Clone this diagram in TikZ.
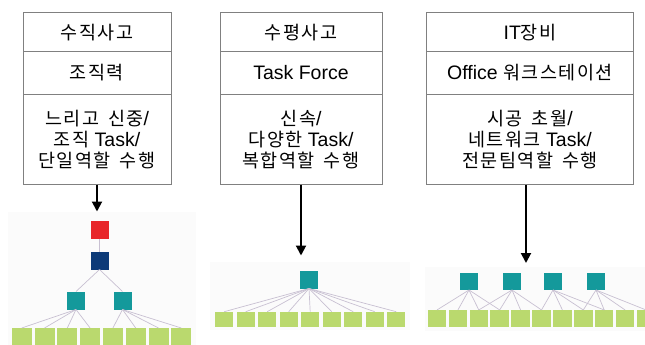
\documentclass[tikz,border=0pt]{standalone}
\usepackage{fontspec}
\setmainfont{Liberation Sans}
\newfontfamily\kr[LetterSpace=8, WordSpace=1.6]{Noto Sans CJK KR}
\usetikzlibrary {arrows.meta,
                 positioning}
\definecolor{boxgray}{HTML}{808080}
\definecolor{nodered}{HTML}{E8262A}
\definecolor{nodenavy}{HTML}{0D3A78}
\definecolor{nodeteal}{HTML}{14999B}
\definecolor{nodegreen}{HTML}{BAD96E}
\definecolor{linkgray}{HTML}{C8C0D2}
\definecolor{treebg}{HTML}{FBFBFB}
\tikzset{
         rowbox/.style={draw=boxgray, line width=0.8pt, outer sep=0pt, inner sep=0pt,
                        align=center, font=\fontsize{19.5}{20.8}\selectfont},
         sq/.style={inner sep=0pt, outer sep=0pt, minimum size=18pt},
         redsq/.style={sq, fill=nodered},
         navysq/.style={sq, fill=nodenavy},
         tealsq/.style={sq, fill=nodeteal},
         greensq/.style={inner sep=0pt, outer sep=0pt, fill=nodegreen},
         link/.style={draw=linkgray, line width=0.7pt},
         myarrow/.style={-{Triangle[length=10pt, width=10pt]}, line width=2pt},
}
\newcommand{\hg}[1]{{\fontsize{18.5}{20.8}\kr #1}}

\begin{document}
\begin{tikzpicture}[x=1pt, y=-1pt]
    \useasboundingbox (0,0) rectangle (645,345);

    % Spalte 1
    \node[rowbox, minimum width=148pt, minimum height=39pt] (h1) at (97,32.2) {\hg{수직사고}};
    \node[rowbox, minimum width=148pt, minimum height=42.5pt, below=0pt of h1] (m1) {\hg{조직력}};
    \node[rowbox, minimum width=148pt, minimum height=90.5pt, below=0pt of m1] (t1)
         {\hg{느리고 신중}/\\\hg{조직} Task/\\\hg{단일역할 수행}};

    % Spalte 2
    \node[rowbox, minimum width=162pt, minimum height=39pt] (h2) at (301,32.2) {\hg{수평사고}};
    \node[rowbox, minimum width=162pt, minimum height=42.5pt, below=0pt of h2] (m2) {Task Force};
    \node[rowbox, minimum width=162pt, minimum height=90.5pt, below=0pt of m2] (t2)
         {\hg{신속}/\\\hg{다양한} Task/\\\hg{복합역할 수행}};

    % Spalte 3
    \node[rowbox, minimum width=207pt, minimum height=39pt] (h3) at (530,32.2) {IT\hg{장비}};
    \node[rowbox, minimum width=207pt, minimum height=42.5pt, below=0pt of h3] (m3) {Office \hg{워크스테이션}};
    \node[rowbox, minimum width=207pt, minimum height=90.5pt, below=0pt of m3] (t3)
         {\hg{시공 초월}/\\\hg{네트워크} Task/\\\hg{전문팀역할 수행}};

    % Baum 1
    \fill[treebg] (8,212) rectangle (196,345);
    \node[redsq] (rA) at (99.5,230) {};
    \node[navysq] (nA) at (99.5,260.5) {};
    \node[tealsq] (tA1) at (76,300.5) {};
    \node[tealsq] (tA2) at (122.5,300.5) {};
    \foreach \i in {1,...,8}
        \node[greensq, minimum width=20pt, minimum height=18pt] (gA\i) at ({21.7+22.8*(\i-1)},337) {};
    \draw[link] (rA) -- (nA);
    \draw[link] (nA.south) -- (tA1.north);
    \draw[link] (nA.south) -- (tA2.north);
    \foreach \i in {1,...,4}
        \draw[link] (tA1.south) -- (gA\i.north);
    \foreach \i in {5,...,8}
        \draw[link] (tA2.south) -- (gA\i.north);

    % Baum 2
    \fill[treebg] (210,262) rectangle (410,330);
    \node[tealsq] (tB) at (309,279.5) {};
    \foreach \i in {1,...,9}
        \node[greensq, minimum width=18.3pt, minimum height=15pt] (gB\i) at ({224.2+21.5*(\i-1)},319.2) {};
    \foreach \i in {1,...,9}
        \draw[link] (tB.south) -- (gB\i.north);

    % Baum 3
    \fill[treebg] (425,267) rectangle (645,331);
    \foreach \x [count=\k] in {469,512,553,596}
        \node[tealsq, minimum height=17pt] (tC\k) at (\x,281.5) {};
    \foreach \i in {1,...,11}
        \node[greensq, minimum width=18.5pt, minimum height=16.7pt] (gC\i) at ({437+20.9*(\i-1)},318.3) {};
    \foreach \i in {1,...,4}
        \draw[link] (tC1.south) -- (gC\i.north);
    \foreach \i in {3,...,6}
        \draw[link] (tC2.south) -- (gC\i.north);
    \foreach \i in {6,...,9}
        \draw[link] (tC3.south) -- (gC\i.north);
    \foreach \i in {8,...,11}
        \draw[link] (tC4.south) -- (gC\i.north);

    % Pfeile
    \coordinate (c3) at ([xshift=-4pt]t3.south);
    \draw[myarrow, shorten >=9.5pt] (t1.south) -- (t1.south |- rA.north);
    \draw[myarrow, shorten >=15pt] (t2.south) -- (t2.south |- tB.north);
    \draw[myarrow, shorten >=10pt] (c3) -- (c3 |- tC1.north);
\end{tikzpicture}
\end{document}
